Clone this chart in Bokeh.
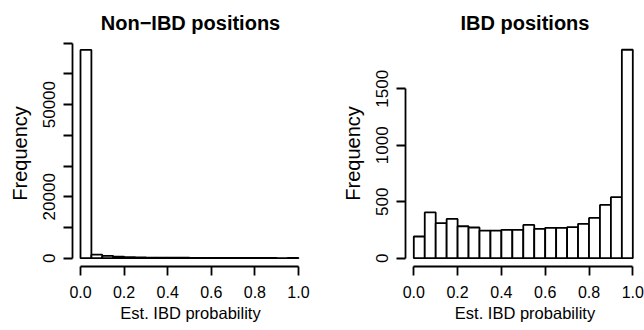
from bokeh.plotting import figure
from bokeh.layouts import row
from bokeh.models import FixedTicker, Range1d
from bokeh.embed import file_html
from bokeh.resources import INLINE

# ---- data ----
bin_left = [0.00, 0.05, 0.10, 0.15, 0.20, 0.25, 0.30, 0.35, 0.40, 0.45,
            0.50, 0.55, 0.60, 0.65, 0.70, 0.75, 0.80, 0.85, 0.90, 0.95]
bin_right = [0.05, 0.10, 0.15, 0.20, 0.25, 0.30, 0.35, 0.40, 0.45, 0.50,
             0.55, 0.60, 0.65, 0.70, 0.75, 0.80, 0.85, 0.90, 0.95, 1.00]
non_ibd_counts = [67800, 1150, 750, 480, 320, 260, 220, 170, 150, 140,
                  130, 130, 120, 90, 80, 70, 60, 60, 50, 60]
ibd_counts = [192, 405, 310, 348, 283, 272, 245, 245, 251, 251,
              295, 260, 269, 269, 275, 304, 357, 472, 540, 1846]
x_ticks = [0.0, 0.2, 0.4, 0.6, 0.8, 1.0]
x_tick_labels = ["0.0", "0.2", "0.4", "0.6", "0.8", "1.0"]
left_y_ticks = [0, 10000, 20000, 30000, 40000, 50000, 60000, 70000]
left_y_labels = ["0", "", "20000", "", "", "50000", "", ""]
right_y_ticks = [0, 500, 1000, 1500]
right_y_labels = ["0", "500", "1000", "1500"]

FONT = "Liberation Sans"
LW = 1.8


def make_hist(title, counts, y_ticks, y_labels, y_bounds, x_range, y_range, border_left, border_right):
    p = figure(width=322, height=330, output_backend="svg", toolbar_location=None,
               x_range=Range1d(*x_range), y_range=Range1d(*y_range),
               min_border_left=border_left, min_border_right=border_right,
               min_border_top=40, min_border_bottom=64)
    p.title.text = title
    p.title.align = "center"
    p.title.text_font = FONT
    p.title.text_font_size = "20px"
    p.title.text_font_style = "bold"
    p.title.text_color = "black"
    p.title.standoff = 13
    p.outline_line_color = None
    p.xgrid.visible = False
    p.ygrid.visible = False
    p.background_fill_color = "white"
    p.border_fill_color = "white"

    p.quad(left=bin_left, right=bin_right, top=counts, bottom=0,
           fill_color="white", line_color="black", line_width=LW)

    xa = p.xaxis[0]
    xa.ticker = FixedTicker(ticks=x_ticks)
    xa.major_label_overrides = {t: l for t, l in zip(x_ticks, x_tick_labels)}
    xa.bounds = (0, 1)
    xa.axis_label = "Est. IBD probability"

    ya = p.yaxis[0]
    ya.ticker = FixedTicker(ticks=y_ticks)
    ya.major_label_overrides = {t: l for t, l in zip(y_ticks, y_labels)}
    ya.bounds = y_bounds
    ya.axis_label = "Frequency"
    ya.major_label_orientation = "vertical"

    for ax in (xa, ya):
        ax.axis_line_width = LW
        ax.axis_line_color = "black"
        ax.major_tick_line_width = LW
        ax.major_tick_line_color = "black"
        ax.major_tick_out = 9
        ax.major_tick_in = 0
        ax.minor_tick_out = 0
        ax.minor_tick_in = 0
        ax.major_label_text_font = FONT
        ax.major_label_text_color = "black"
        ax.axis_label_text_font = FONT
        ax.axis_label_text_font_style = "normal"
        ax.axis_label_text_color = "black"
    xa.major_label_text_font_size = "16px"
    xa.axis_label_text_font_size = "16.5px"
    ya.major_label_text_font_size = "17px"
    ya.axis_label_text_font_size = "20px"
    xa.major_label_standoff = 10
    xa.axis_label_standoff = 3
    ya.major_label_standoff = 8
    ya.axis_label_standoff = 10
    return p


p1 = make_hist("Non\u2212IBD positions", non_ibd_counts, left_y_ticks, left_y_labels, (0, 70000),
               (-0.0367, 1.0459), (-2702, 70880), 72, 14)
p2 = make_hist("IBD positions", ibd_counts, right_y_ticks, right_y_labels, (0, 1500),
               (-0.0379, 1.0534), (-73.5, 1927.7), 83, 0)

layout = row(p1, p2)
open("out.html", "w").write(file_html(layout, INLINE))
